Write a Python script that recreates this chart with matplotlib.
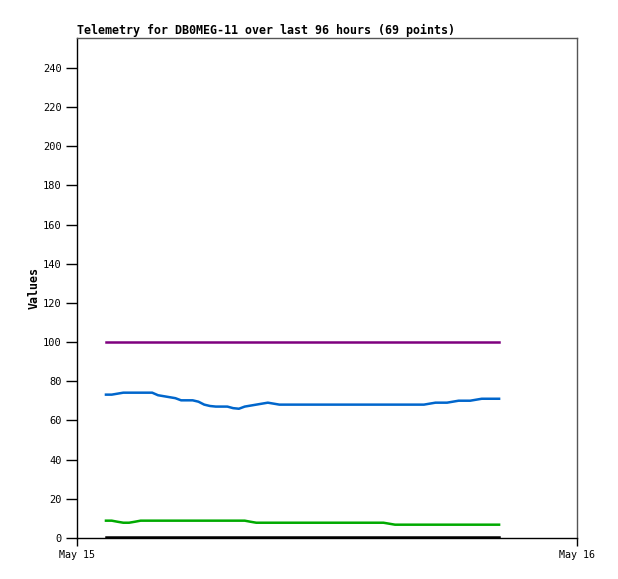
import numpy as np
import matplotlib
matplotlib.use("Agg")
import matplotlib.pyplot as plt

# -------- DATA --------
title = "Telemetry for DB0MEG-11 over last 96 hours (69 points)"
x_ticks = [0, 24]
x_labels = ["May 15", "May 16"]
y_ticks = list(range(0, 241, 20))

# 69 samples, hours after May 15 00:00
hours = np.linspace(1.39, 20.26, 69)

blue = [73.2, 73.2, 73.7, 74.2, 74.2, 74.2, 74.2, 74.2, 74.2, 72.9,
        72.4, 71.9, 71.4, 70.3, 70.3, 70.3, 69.6, 68.1, 67.4, 67.1,
        67.1, 67.1, 66.3, 66.0, 67.1, 67.6, 68.1, 68.6, 69.1, 68.6,
        68.1, 68.1, 68.1, 68.1, 68.1, 68.1, 68.1, 68.1, 68.1, 68.1,
        68.1, 68.1, 68.1, 68.1, 68.1, 68.1, 68.1, 68.1, 68.1, 68.1,
        68.1, 68.1, 68.1, 68.1, 68.1, 68.1, 68.6, 69.1, 69.1, 69.1,
        69.6, 70.1, 70.1, 70.1, 70.6, 71.1, 71.1, 71.1, 71.1]

green = [8.85, 8.85, 8.3, 7.8, 7.8, 8.3] + [8.85] * 19 + [8.3] + [7.8] * 23 + [7.3] + [6.8] * 19

purple = [100.0] * 69
black = [0.3] * 69

# -------- PLOT --------
fig = plt.figure(figsize=(6.18, 5.79), dpi=100)
ax = fig.add_axes([77 / 618, 41 / 579, 500 / 618, 500 / 579])

ax.plot(hours, purple, color="#7f007f", lw=1.8)
ax.plot(hours, blue, color="#0066cc", lw=1.8)
ax.plot(hours, green, color="#00aa00", lw=1.8)
ax.plot(hours, black, color="#000000", lw=1.8)

ax.set_xlim(0, 24)
ax.set_ylim(0, 255.3)
ax.set_yticks(y_ticks)
ax.set_yticklabels([str(v) for v in y_ticks], family="DejaVu Sans Mono", fontsize=7.5)
ax.set_xticks(x_ticks)
ax.set_xticklabels(x_labels, family="DejaVu Sans Mono", fontsize=7.2)
ax.tick_params(axis="y", direction="out", length=8, width=1, pad=3)
ax.tick_params(axis="x", direction="out", length=6, width=1, pad=3)

for s in ax.spines.values():
    s.set_linewidth(1)
ax.spines["right"].set_color("#555555")
ax.spines["top"].set_color("#555555")

ax.set_ylabel("Values", family="DejaVu Sans Mono", fontweight="bold", fontsize=8.4)
ax.yaxis.set_label_coords(-0.073, 0.5)
ax.set_title(title, family="DejaVu Sans Mono", fontweight="bold", fontsize=8.4, loc="left", pad=3)

fig.savefig("out.png", dpi=100)
